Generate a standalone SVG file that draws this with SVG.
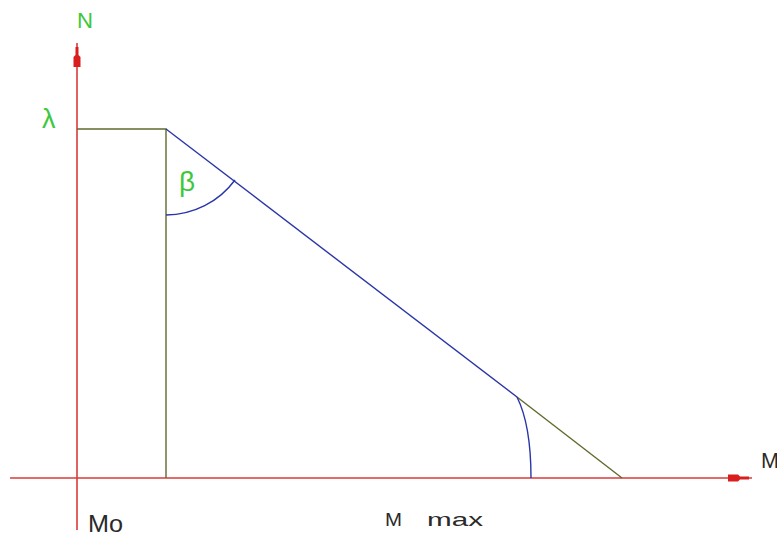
<svg xmlns="http://www.w3.org/2000/svg" width="777" height="535" viewBox="0 0 777 535">
<style>
.ax{stroke:#d93a3a;stroke-width:1.6;fill:none}
.ol{stroke:#5f6b2c;stroke-width:1.4;fill:none}
.bl{stroke:#2a35a8;stroke-width:1.4;fill:none}
.hd{fill:#d81e1e}
.g{fill:#3cc83c;font-family:"Liberation Sans",Arial,sans-serif}
.k{fill:#2a2a2a;font-family:"Liberation Sans",Arial,sans-serif}
</style>
<rect width="777" height="535" fill="#fff"/>
<g id="connectors">
<line class="ax" x1="77" y1="43" x2="77" y2="530"/>
<line class="ax" x1="10" y1="478" x2="752" y2="478"/>
<path class="hd" d="M75.5,47 L78.5,47 L78.5,55 L80.5,57 L80.5,67 L73.5,67 L73.5,57 L75.5,55 Z"/>
<path class="hd" d="M728,474.5 L738,474.5 L740,476.5 L749,476.5 L749,479.5 L740,479.5 L738,481.5 L728,481.5 Z"/>
<polyline class="ol" points="77,129 166,129 166,478"/>
<line class="bl" x1="166" y1="129" x2="517" y2="397"/>
<line class="ol" x1="517" y1="397" x2="622" y2="478"/>
<path class="bl" d="M166,215 A86,86 0 0 0 235,180"/>
<path class="bl" d="M517,397 Q531,425 531,478"/>
</g>
<g id="labels">
<text class="g" x="77" y="28" font-size="22" textLength="16" lengthAdjust="spacingAndGlyphs">N</text>
<text class="g" x="42" y="128" font-size="27">λ</text>
<text class="g" x="179" y="191" font-size="28">β</text>
<text class="k" x="761" y="468" font-size="22" textLength="18" lengthAdjust="spacingAndGlyphs">M</text>
<text class="k" x="88" y="532" font-size="23" textLength="35" lengthAdjust="spacingAndGlyphs">Mo</text>
<text class="k" x="385" y="526" font-size="19" textLength="17" lengthAdjust="spacingAndGlyphs">M</text>
<text class="k" x="427" y="526" font-size="19" textLength="56" lengthAdjust="spacingAndGlyphs">max</text>
</g>
</svg>
